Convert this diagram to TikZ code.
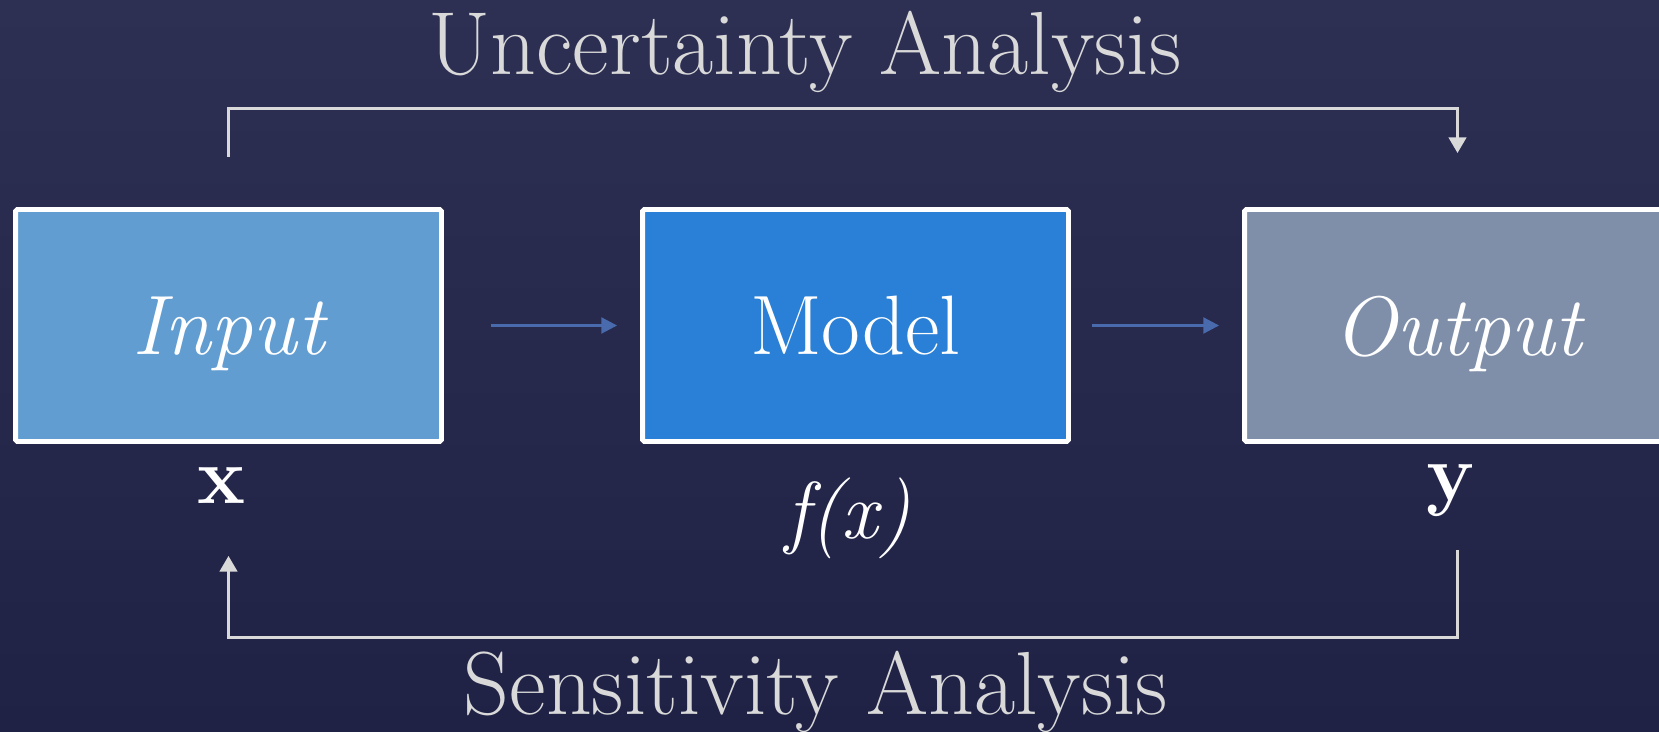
\documentclass[tikz,border=0pt]{standalone}
\usepackage{tikz}
\usetikzlibrary{arrows.meta}

\definecolor{bgtop}{HTML}{2D3053}
\definecolor{bgbot}{HTML}{1F2245}
\definecolor{inputfill}{HTML}{629DD1}
\definecolor{modelfill}{HTML}{2A80D6}
\definecolor{outputfill}{HTML}{7F8FAA}
\definecolor{flowblue}{HTML}{4A6AAE}
\definecolor{loopgray}{HTML}{D9D9D9}

\begin{document}
\begin{tikzpicture}[x=0.02cm, y=-0.02cm,
    bbox/.style={draw=white, line width=2.8pt, rounded corners=1pt,
                 minimum width=8.52cm, minimum height=4.64cm,
                 text=white, text depth=0pt, font=\fontsize{48}{52}\selectfont},
    lbl/.style={text=white, font=\fontsize{46}{50}\selectfont},
    ttl/.style={text=loopgray, font=\fontsize{51}{55}\selectfont},
    flow/.style={-{Triangle[length=9pt, width=9pt]}, line width=1.6pt, flowblue},
    loop/.style={-{Triangle[length=9pt, width=10pt]}, line width=1.7pt, loopgray},
]
\useasboundingbox (0,0) rectangle (1659,732);
\clip (0,0) rectangle (1659,732);
\shade[top color=bgtop, bottom color=bgbot] (0,0) rectangle (1659,732);

% boxes
\node[bbox, fill=inputfill] (inp) at (228.5,325.5) {\itshape Input};
\node[bbox, fill=modelfill] (mdl) at (855.5,325.5) {Model};
\node[bbox, fill=outputfill] (out) at (1457.5,325.5) {\itshape Output};

\node[lbl] (xlbl) at (221,486) {\bfseries x};
\node[lbl] (flbl) at (848,518) {\itshape f(x)};
\node[lbl] (ylbl) at (1450,491) {\bfseries y};

\node[ttl] (uq) at (805,52) {Uncertainty Analysis};
\node[ttl] (sa) at (816,692) {Sensitivity Analysis};

% arrows
\draw[flow, shorten <=0.94cm, shorten >=0.46cm] (inp) -- (mdl);
\draw[flow, shorten <=0.42cm, shorten >=0.46cm] (mdl) -- (out);

\draw[loop] ([yshift=1.01cm]inp.north) |- ([yshift=1.98cm]out.north) -- ([yshift=1.08cm]out.north);
\draw[loop] ([yshift=-2.12cm]out.south) |- ([yshift=-3.88cm]inp.south) -- ([yshift=-2.24cm]inp.south);
\end{tikzpicture}
\end{document}
